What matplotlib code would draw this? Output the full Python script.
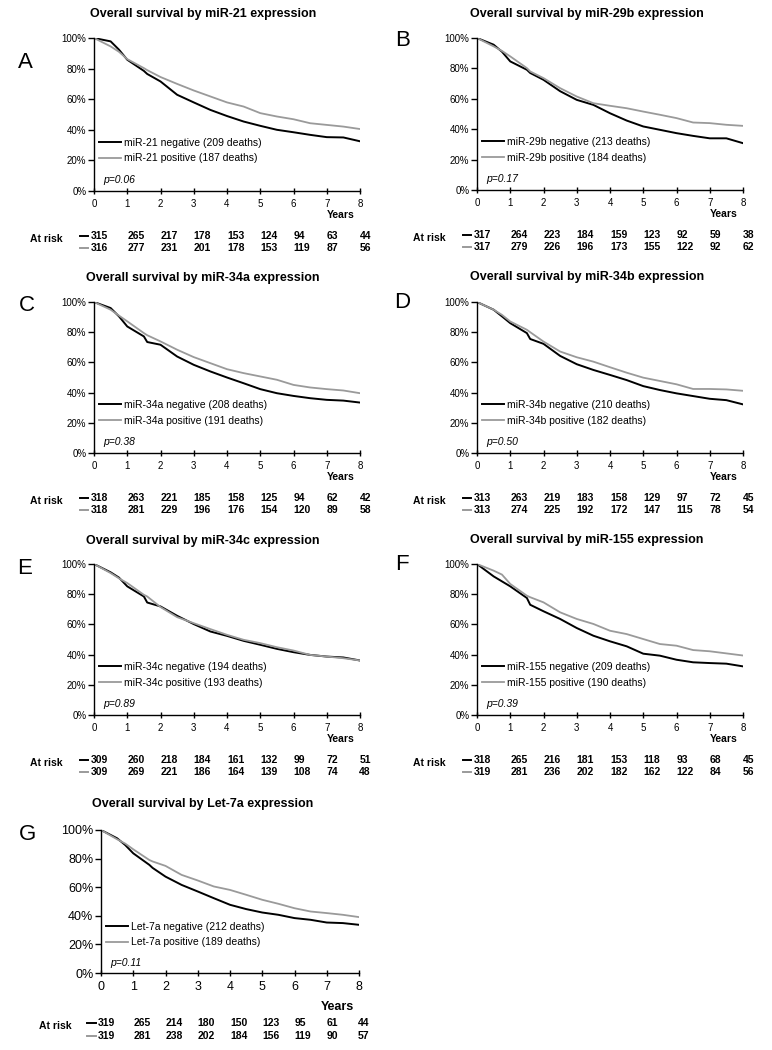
import matplotlib.pyplot as plt
from matplotlib.transforms import blended_transform_factory

plt.rcParams['font.family'] = ['Liberation Sans', 'DejaVu Sans']

# survival read at these times (years)
years = [0, 0.5, 0.75, 1, 1.5, 1.6, 2, 2.5, 3, 3.5, 4, 4.5, 5, 5.5, 6, 6.5, 7, 7.5, 8]

panel_letters = ['A', 'B', 'C', 'D', 'E', 'F', 'G']
markers = ['miR-21', 'miR-29b', 'miR-34a', 'miR-34b', 'miR-34c', 'miR-155', 'Let-7a']
deaths_neg = [209, 213, 208, 210, 194, 209, 212]
deaths_pos = [187, 184, 191, 182, 193, 190, 189]
p_values = ['0.06', '0.17', '0.38', '0.50', '0.89', '0.39', '0.11']

surv_neg = [
    [100, 97.8, 92.4, 85.8, 78.5, 76.5, 71.6, 62.9, 57.9, 53.0, 49.0, 45.4, 42.6, 40.0, 38.4, 36.7, 35.2, 35.0, 32.5],
    [100, 95.6, 91.0, 84.6, 79.1, 77.0, 72.5, 65.0, 59.3, 56.0, 50.5, 45.7, 41.8, 39.6, 37.4, 35.6, 34.0, 34.0, 30.8],
    [100, 96.0, 90.5, 83.8, 77.2, 73.5, 71.7, 63.9, 58.4, 54.0, 50.0, 46.2, 42.3, 39.6, 37.8, 36.3, 35.2, 34.7, 33.4],
    [100, 94.9, 90.5, 86.0, 79.4, 75.5, 72.3, 64.3, 58.8, 55.0, 51.7, 48.3, 44.3, 41.7, 39.5, 37.7, 35.9, 35.0, 32.2],
    [100, 94.5, 91.0, 85.2, 78.5, 74.5, 71.9, 65.7, 60.2, 55.3, 52.4, 49.1, 46.5, 43.8, 41.6, 39.8, 38.7, 38.1, 36.1],
    [100, 91.8, 88.5, 85.2, 77.5, 73.0, 68.7, 63.6, 57.6, 52.5, 48.8, 45.5, 40.6, 39.3, 36.6, 34.9, 34.4, 34.0, 32.2],
    [100, 94.2, 89.5, 83.7, 75.6, 73.5, 67.4, 61.6, 57.0, 52.3, 47.7, 44.7, 42.3, 40.7, 38.4, 37.2, 35.3, 34.9, 33.7],
]
surv_pos = [
    [100, 94.5, 91.0, 86.2, 80.3, 79.0, 74.5, 70.0, 65.7, 61.8, 57.9, 55.2, 50.9, 48.7, 46.9, 44.3, 43.2, 42.1, 40.5],
    [100, 94.5, 91.5, 87.9, 80.2, 78.0, 73.6, 67.0, 61.5, 57.1, 55.4, 53.8, 51.6, 49.5, 47.3, 44.4, 44.0, 42.9, 42.2],
    [100, 94.9, 91.0, 87.2, 79.4, 78.0, 73.9, 68.4, 63.5, 59.5, 55.5, 52.9, 50.7, 48.5, 45.1, 43.4, 42.3, 41.4, 39.6],
    [100, 94.9, 91.5, 87.1, 81.6, 80.0, 73.8, 67.2, 63.4, 60.5, 56.8, 53.2, 49.9, 47.7, 45.5, 42.4, 42.4, 42.1, 41.2],
    [100, 94.0, 90.5, 87.4, 79.6, 78.5, 71.5, 64.8, 60.8, 56.9, 53.1, 49.8, 47.6, 44.9, 42.7, 39.8, 38.7, 37.6, 36.1],
    [100, 95.6, 93.0, 86.8, 79.0, 78.0, 74.6, 68.0, 63.6, 60.3, 55.8, 53.6, 50.3, 47.0, 45.9, 43.0, 42.2, 40.8, 39.4],
    [100, 93.5, 90.5, 86.5, 79.0, 78.0, 74.9, 68.6, 64.7, 60.5, 58.1, 54.7, 51.2, 48.4, 45.3, 43.0, 41.9, 40.7, 39.1],
]

risk_years = [0, 1, 2, 3, 4, 5, 6, 7, 8]
risk_neg = [
    [315, 265, 217, 178, 153, 124, 94, 63, 44],
    [317, 264, 223, 184, 159, 123, 92, 59, 38],
    [318, 263, 221, 185, 158, 125, 94, 62, 42],
    [313, 263, 219, 183, 158, 129, 97, 72, 45],
    [309, 260, 218, 184, 161, 132, 99, 72, 51],
    [318, 265, 216, 181, 153, 118, 93, 68, 45],
    [319, 265, 214, 180, 150, 123, 95, 61, 44],
]
risk_pos = [
    [316, 277, 231, 201, 178, 153, 119, 87, 56],
    [317, 279, 226, 196, 173, 155, 122, 92, 62],
    [318, 281, 229, 196, 176, 154, 120, 89, 58],
    [313, 274, 225, 192, 172, 147, 115, 78, 54],
    [309, 269, 221, 186, 164, 139, 108, 74, 48],
    [319, 281, 236, 202, 182, 162, 122, 84, 56],
    [319, 281, 238, 202, 184, 156, 119, 90, 57],
]

W, H = 772, 1050
# axes boxes in pixels: left, right, top, bottom
boxes = [(94, 360, 38, 191), (477, 743, 38, 190),
         (94, 360, 302, 453), (477, 743, 302, 453),
         (94, 360, 564, 715), (477, 743, 564, 715),
         (101, 359, 830, 973)]
title_pos = [(203, 14), (587, 14), (203, 278), (587, 277), (203, 541), (587, 540), (203, 804)]
letter_pos = [(25, 62), (403, 40), (27, 305), (402, 303), (25, 568), (402, 565), (27, 835)]

BLACK = '#000000'
GRAY = '#9a9a9a'

fig = plt.figure(figsize=(W / 100, H / 100), dpi=100)

for i in range(7):
    l, r, t, b = boxes[i]
    ax = fig.add_axes([l / W, 1 - b / H, (r - l) / W, (b - t) / H])
    big = (i == 6)
    tick_fs = 9 if big else 7

    ax.plot(years, surv_neg[i], color=BLACK, lw=1.4,
            label=f'{markers[i]} negative ({deaths_neg[i]} deaths)')
    ax.plot(years, surv_pos[i], color=GRAY, lw=1.3,
            label=f'{markers[i]} positive ({deaths_pos[i]} deaths)')

    ax.set_xlim(0, 8)
    ax.set_ylim(0, 100)
    ax.set_xticks(range(9))
    ax.set_yticks(range(0, 101, 20))
    ax.set_yticklabels([f'{v}%' for v in range(0, 101, 20)])
    ax.spines['top'].set_visible(False)
    ax.spines['right'].set_visible(False)
    ax.spines['left'].set_linewidth(1.0)
    ax.spines['bottom'].set_linewidth(1.0)
    ax.tick_params(axis='x', direction='inout', length=5, width=1, labelsize=tick_fs, pad=3)
    ax.tick_params(axis='y', direction='out', length=4, width=1, labelsize=tick_fs, pad=1.5)

    ax.legend(loc='lower left', bbox_to_anchor=(0.02, 0.18), frameon=False,
              fontsize=7.5, handlelength=2.1, handletextpad=0.3,
              labelspacing=0.55, borderpad=0, borderaxespad=0)
    ax.text(0.035, 0.07, f'p={p_values[i]}', transform=ax.transAxes,
            fontsize=7.5, style='italic', va='center', ha='left')

    hpx = b - t
    wpx = (r - l) / 8.0
    trans = blended_transform_factory(ax.transData, ax.transAxes)
    years_off = 34 if big else 24
    ax.text(8 - 5 / wpx, -years_off / hpx, 'Years', transform=trans,
            ha='right', va='center', fontsize=9 if big else 7.5, fontweight='bold')

    row1 = -(50 if big else 45) / hpx
    row2 = -(63 if big else 57) / hpx
    ax.text(-1.42, row1 - 3 / hpx, 'At risk', transform=trans, ha='center',
            va='center', fontsize=7.5, fontweight='bold')
    for row_y, counts, col in [(row1, risk_neg[i], BLACK), (row2, risk_pos[i], GRAY)]:
        ax.plot([-0.42, -0.17], [row_y, row_y], transform=trans, color=col,
                lw=1.4, clip_on=False)
        for k, (yr, n) in enumerate(zip(risk_years, counts)):
            if k == 0:
                x, ha = -0.1, 'left'
            elif k == len(risk_years) - 1:
                x, ha = 8.33, 'right'
            else:
                x, ha = yr, 'left'
            ax.text(x, row_y, str(n), transform=trans, ha=ha, va='center',
                    fontsize=7.5, fontweight='bold')

    tx, ty = title_pos[i]
    fig.text(tx / W, 1 - ty / H, f'Overall survival by {markers[i]} expression',
             ha='center', va='center', fontsize=9, fontweight='bold')
    lx, ly = letter_pos[i]
    fig.text(lx / W, 1 - ly / H, panel_letters[i], ha='center', va='center', fontsize=16)

fig.savefig('out.png', dpi=100)
